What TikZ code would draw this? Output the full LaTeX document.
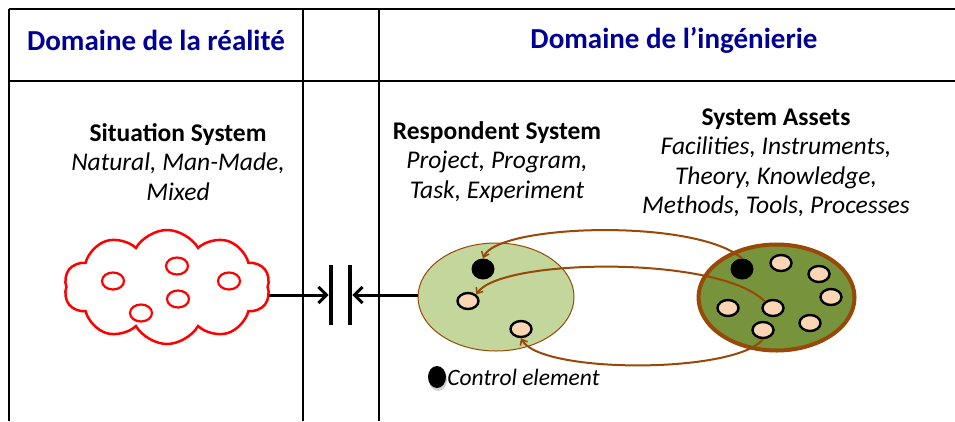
\documentclass[tikz,border=0pt]{standalone}
\usepackage{fontspec}
\setmainfont{Carlito}
\usetikzlibrary{shapes.symbols,shapes.geometric,arrows.meta,shadows}
\definecolor{hdrblue}{RGB}{0,0,150}
\definecolor{lgreen}{RGB}{195,214,155}
\definecolor{dgreen}{RGB}{119,147,60}
\definecolor{brownc}{RGB}{152,72,7}
\definecolor{peach}{RGB}{252,213,181}
\begin{document}
\begin{tikzpicture}[x=1pt,y=-1pt,
  hdr/.style={font=\fontsize{29}{32}\selectfont\bfseries, text=hdrblue},
  ttl/.style={align=center, font=\fontsize{25.5}{29.5}\selectfont, inner sep=0pt},
  tline/.style={line width=1.6pt},
  peachdot/.style={ellipse, draw=black, line width=2.4pt, fill=peach, minimum width=21pt, minimum height=16pt, inner sep=0pt},
  blackdot/.style={ellipse, fill=black, minimum width=23pt, minimum height=21pt, inner sep=0pt},
  redcirc/.style={ellipse, draw=red, line width=2.2pt, minimum width=22pt, minimum height=17pt, inner sep=0pt},
  bar/.style={fill=black, minimum width=4.5pt, minimum height=60pt, inner sep=0pt},
  bigarrow/.style={line width=3pt, -{Straight Barb[length=8pt,width=16pt,line width=3pt]}},
  brarrow/.style={draw=brownc, line width=2pt, -{Straight Barb[length=5pt,width=8pt,line width=1.6pt]}}
]
\useasboundingbox (0,0) rectangle (955,421);
% table
\draw[tline] (9,9) -- (955,9);
\draw[tline] (9,81) -- (955,81);
\draw[tline] (9,9) -- (9,421);
\draw[tline] (303,9) -- (303,421);
\draw[tline] (379,9) -- (379,421);
\node[hdr] (h1) at (156,40) {Domaine de la réalité};
\node[hdr] (h2) at (674,40) {Domaine de l’ingénierie};
% titles
\node[ttl] (t1) at (178,162) {\textbf{Situation System}\\\textit{Natural, Man-Made,}\\\textit{Mixed}};
\node[ttl] (t2) at (497,162) {\textbf{Respondent System}\\\textit{Project, Program,}\\\textit{Task, Experiment}};
\node[ttl] (t3) at (776,163) {\textbf{System Assets}\\\textit{Facilities, Instruments,}\\\textit{Theory, Knowledge,}\\\textit{Methods, Tools, Processes}};
% cloud
\node[cloud, draw=red, line width=2.5pt, cloud puffs=10, cloud puff arc=120, aspect=2, minimum width=206pt, minimum height=114pt, inner sep=0pt] (cloud) at (167,287) {};
\node[redcirc] (c1) at (113,281) {};
\node[redcirc] (c2) at (177,266) {};
\node[redcirc] (c3) at (229,281) {};
\node[redcirc] (c4) at (178,299) {};
\node[redcirc] (c5) at (141,313) {};
% bars
\node[bar] (bar1) at (331,295) {};
\node[bar] (bar2) at (350,295) {};
% ellipses
\node[ellipse, fill=lgreen, draw=brownc, line width=1pt, minimum width=156pt, minimum height=108pt, inner sep=0pt] (rs) at (496,297) {};
\node[ellipse, fill=dgreen, draw=brownc, line width=4pt, minimum width=156pt, minimum height=106pt, inner sep=0pt] (sa) at (776.5,297.5) {};
\draw[bigarrow] (bar1.west -| cloud.east) -- (bar1.west);
\draw[bigarrow] (bar2.east -| rs.west) -- (bar2.east);
% respondent dots
\node[blackdot] (rb) at (483,269) {};
\node[peachdot] (rp1) at (468,301) {};
\node[peachdot] (rp2) at (521,329) {};
% asset dots
\node[blackdot] (ab) at (742,269) {};
\node[peachdot] (ap1) at (781,263) {};
\node[peachdot] (ap2) at (819,274) {};
\node[peachdot] (ap3) at (831,297) {};
\node[peachdot] (ap4) at (728,308) {};
\node[peachdot] (ap5) at (773,308) {};
\node[peachdot] (ap6) at (810,323) {};
\node[peachdot] (ap7) at (763,330) {};
% curved arrows
\draw[brarrow] (ab.north) .. controls (695,218) and (497,224) .. (rb.north);
\draw[brarrow] (ap5.north west) .. controls (720,255) and (500,258) .. (rp1.north east);
\draw[brarrow] (ap7.south) .. controls (735,374) and (540,374) .. (rp2.south);
% legend
\node[ellipse, fill=black, minimum width=18pt, minimum height=22pt, inner sep=0pt, drop shadow={shadow xshift=1pt, shadow yshift=-3pt, opacity=0.35}] (leg) at (437,377) {};
\node[anchor=west, inner sep=1pt, font=\fontsize{23.5}{26}\selectfont\itshape] (legt) at (leg.east) {Control element};
\end{tikzpicture}
\end{document}
